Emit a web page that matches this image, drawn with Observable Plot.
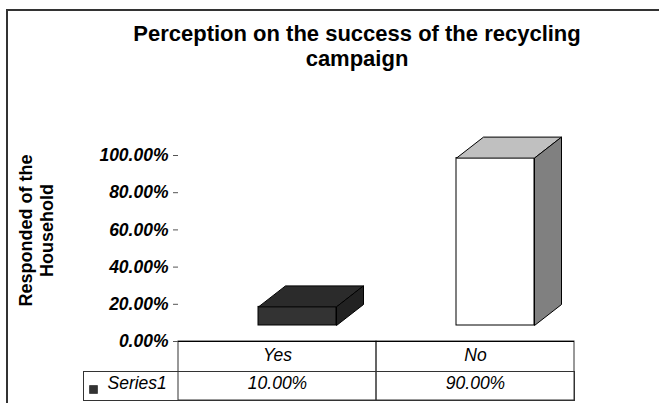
<!DOCTYPE html>
<html><head><meta charset="utf-8">
<script src="https://cdn.jsdelivr.net/npm/d3@7"></script>
<script src="https://cdn.jsdelivr.net/npm/@observablehq/plot@0.6"></script>
<style>
html,body{margin:0;padding:0;background:#fff;}
#wrap{position:relative;width:659px;height:403px;overflow:hidden;font-family:Arial,"Liberation Sans",sans-serif;}
#border{position:absolute;left:6px;top:9px;width:800px;height:600px;border-left:2px solid #333;border-top:2px solid #333;}
#title{position:absolute;left:0;top:21px;width:714px;text-align:center;font-weight:bold;font-size:22px;line-height:25px;color:#000;}
#chart{position:absolute;left:0;top:0;}
</style></head>
<body><div id="wrap"><div id="border"></div><div id="title"></div><div id="chart"></div></div>
<script>
const titleLines = ["Perception on the success of the recycling", "campaign"];
const categories = ["Yes", "No"];
const values = [0.10, 0.90];
const seriesName = "Series1";
const yTicks = [0, 0.2, 0.4, 0.6, 0.8, 1];
const yLabel = "Responded of the\nHousehold";
const frontColors = ["#333333", "#ffffff"];
const topColors = ["#2b2b2b", "#c0c0c0"];
const sideColors = ["#222222", "#808080"];

document.getElementById("title").innerHTML = titleLines.join("<br>");

const data = categories.map((c, i) => ({cat: c, value: values[i], front: frontColors[i], top: topColors[i], side: sideColors[i]}));
const fmt = d3.format(".2%");
const depth = {dx: 27, dy: -21}, lift = -16, insetL = 80, insetR = 40;

function faces(index, scales) {
  const {x, y} = scales;
  const bw = x.bandwidth();
  const g = d3.create("svg:g").attr("stroke", "#000").attr("stroke-width", 1)
    .attr("stroke-linejoin", "round").attr("transform", "translate(0.5,0.5)");
  for (const d of data) {
    const L = x(d.cat) + insetL, R = x(d.cat) + bw - insetR;
    const T = y(d.value) + lift, B = y(0) + lift;
    g.append("path").attr("fill", d.top)
      .attr("d", `M${L},${T}L${L + depth.dx},${T + depth.dy}L${R + depth.dx},${T + depth.dy}L${R},${T}Z`);
    g.append("path").attr("fill", d.side)
      .attr("d", `M${R},${T}L${R + depth.dx},${T + depth.dy}L${R + depth.dx},${B + depth.dy}L${R},${B}Z`);
  }
  return g.node();
}

const plot = Plot.plot({
  width: 659, height: 403,
  marginTop: 155, marginRight: 85, marginBottom: 62, marginLeft: 178,
  style: {background: "transparent", fontFamily: "Arial, 'Liberation Sans', sans-serif", fontSize: "17px", color: "#000", overflow: "visible"},
  x: {type: "band", domain: categories, padding: 0, axis: null},
  y: {domain: [0, 1], axis: null},
  color: {type: "identity"},
  marks: [
    Plot.cell(categories, {x: d => d, insetTop: 186, insetBottom: -59, fill: "none", stroke: "#333"}),
    Plot.frame({insetLeft: -95, insetTop: 216, insetBottom: -59, stroke: "#333"}),
    Plot.axisY({ticks: yTicks, tickFormat: fmt, tickSize: 5, tickPadding: 5, line: true, label: null,
      fontWeight: "bold", fontStyle: "italic", fontSize: 17.5, stroke: "#555"}),
    Plot.ruleY([0], {stroke: "#000"}),
    Plot.barY(data, {x: "cat", y: "value", fill: "front", stroke: "#000", insetLeft: insetL, insetRight: insetR, dy: lift}),
    faces,
    Plot.text(categories, {x: d => d, text: d => d, frameAnchor: "bottom", dy: 19, fontStyle: "italic", fontSize: 17.5}),
    Plot.text(data, {x: "cat", text: d => fmt(d.value), frameAnchor: "bottom", dy: 47, fontStyle: "italic", fontSize: 17.5}),
    Plot.text([seriesName], {text: d => d, frameAnchor: "bottom-left", dx: -71, dy: 47, textAnchor: "start", fontStyle: "italic", fontSize: 17.5}),
    Plot.dot([seriesName], {frameAnchor: "bottom-left", dx: -85, dy: 48, symbol: "square", r: 4.5, fill: "#333", stroke: "#000", strokeWidth: 0.5}),
    Plot.text([yLabel], {text: d => d, frameAnchor: "left", textAnchor: "middle", rotate: -90, dx: -143, dy: -18, fontWeight: "bold", fontSize: 18, lineHeight: 1.2})
  ]
});
document.getElementById("chart").appendChild(plot);
</script>
</body></html>
